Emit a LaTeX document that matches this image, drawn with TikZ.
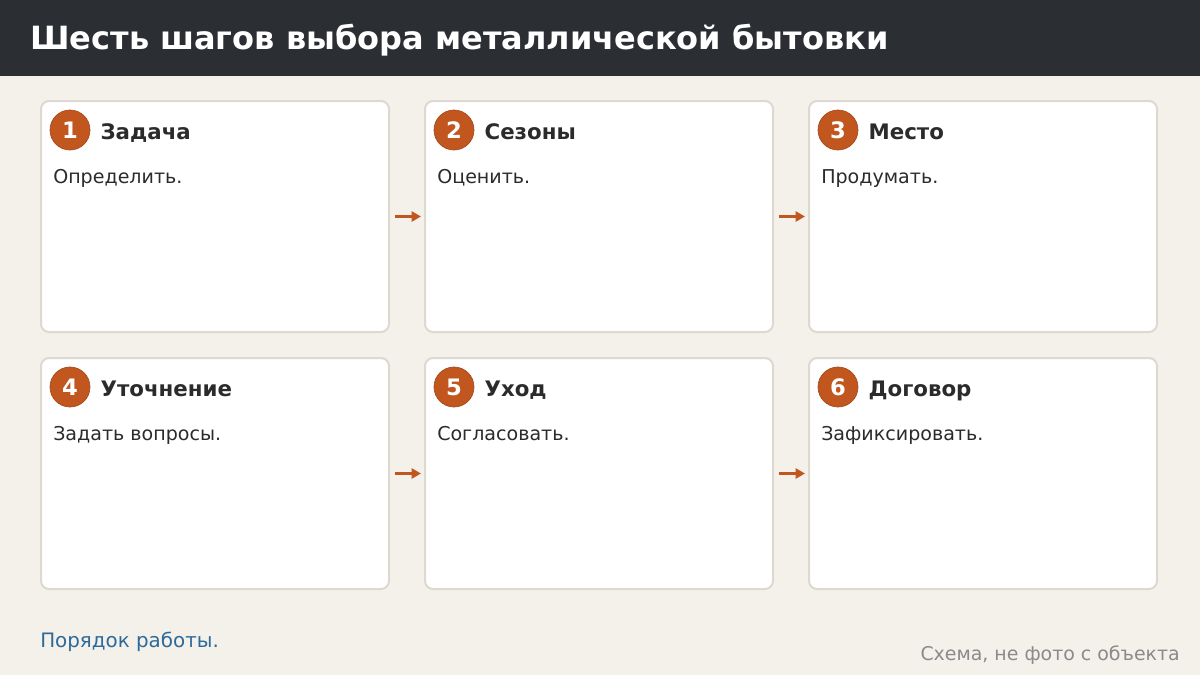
\documentclass[tikz,border=0pt]{standalone}
\usepackage{fontspec}
\setmainfont{DejaVu Sans}
\usetikzlibrary{arrows.meta,positioning}
\definecolor{bgpaper}{HTML}{F4F1EB}
\definecolor{headbar}{HTML}{2B2E33}
\definecolor{cardline}{HTML}{DDD8D0}
\definecolor{rust}{HTML}{C2561F}
\definecolor{inktext}{HTML}{2B2B2B}
\definecolor{linkblue}{HTML}{2D6A9A}
\definecolor{notegray}{HTML}{8A8A8A}
\tikzset{
  card/.style={draw=cardline,line width=1.5pt,fill=white,rounded corners=6pt,
    minimum width=261pt,minimum height=173.25pt,inner sep=0pt},
  badge/.style={circle,fill=rust,draw=rust!85!black,line width=0.5pt,text=white,
    minimum size=30pt,inner sep=0pt,font=\fontsize{17}{20}\selectfont\bfseries},
  cardtitle/.style={anchor=base west,text=inktext,inner sep=0pt,
    font=\fontsize{16}{19}\selectfont\bfseries},
  cardtext/.style={anchor=base west,text=inktext,inner sep=0pt,
    font=\fontsize{14.3}{17}\selectfont},
  flow/.style={-{Triangle[length=7pt,width=7.5pt]},rust,line width=2.25pt,
    shorten <=3.75pt,shorten >=2.25pt}
}
\begin{document}
\begin{tikzpicture}[x=0.75pt,y=-0.75pt]
  % background and header
  \fill[bgpaper] (0,0) rectangle (1200,675);
  \useasboundingbox (0,0) rectangle (1200,675);
  \fill[headbar] (0,0) rectangle (1200,76);
  \node[anchor=base west,text=white,inner sep=0pt,font=\fontsize{24}{28}\selectfont\bfseries]
    (title) at (30,49) {Шесть шагов выбора металлической бытовки};
  % cards
  \foreach \i/\x/\y/\head/\body in {
      1/215/216.5/Задача/Определить.,
      2/599/216.5/Сезоны/Оценить.,
      3/983/216.5/Место/Продумать.,
      4/215/473.5/Уточнение/Задать вопросы.,
      5/599/473.5/Уход/Согласовать.,
      6/983/473.5/Договор/Зафиксировать.} {
    \node[card] (c\i) at (\x,\y) {};
    \node[badge] (b\i) at ([xshift=22.5pt,yshift=-22.5pt]c\i.north west) {\i};
    \node[cardtitle] (h\i) at ([xshift=7.5pt,yshift=-6.75pt]b\i.east) {\head};
    \node[cardtext] (t\i) at ([xshift=9.75pt,yshift=-62.25pt]c\i.north west) {\body};
  }
  % arrows
  \draw[flow] (c1) -- (c2);
  \draw[flow] (c2) -- (c3);
  \draw[flow] (c4) -- (c5);
  \draw[flow] (c5) -- (c6);
  % footer
  \node[anchor=base west,text=linkblue,inner sep=0pt,font=\fontsize{14.9}{18}\selectfont]
    (note) at (40,647) {Порядок работы.};
  \node[anchor=base east,text=notegray,inner sep=0pt,font=\fontsize{14.2}{17}\selectfont]
    (disclaimer) at (1180,660) {Схема, не фото с объекта};
\end{tikzpicture}
\end{document}
